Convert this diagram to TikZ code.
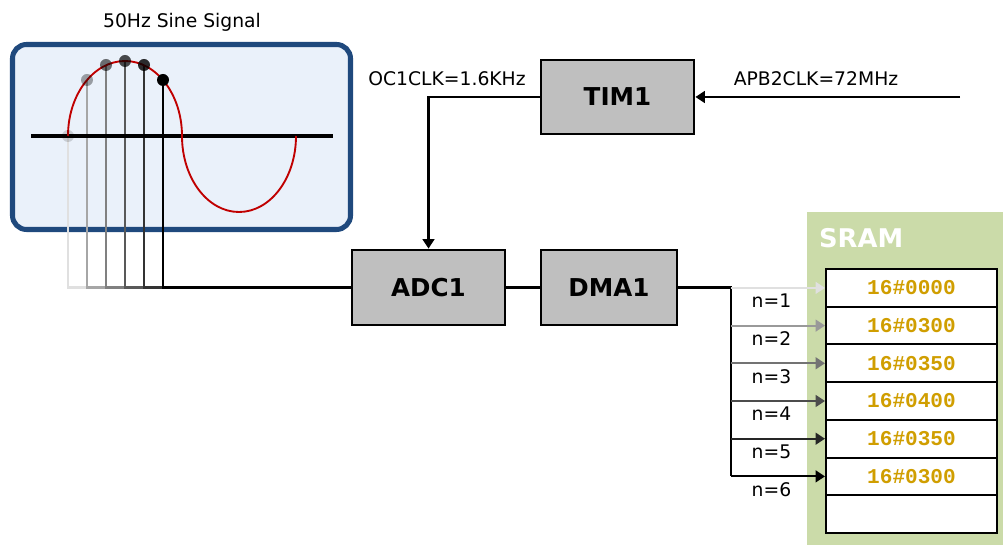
\documentclass[tikz,border=0pt]{standalone}
\usepackage{fontspec}
\setmainfont{DejaVu Sans}
\setmonofont{Liberation Mono}
\usepackage{xcolor}
\usetikzlibrary{arrows.meta, positioning, calc}
\definecolor{scopeBlue}{HTML}{1F497D}
\definecolor{scopeFill}{HTML}{EAF1FA}
\definecolor{sramGreen}{HTML}{CBDBA9}
\definecolor{blockGray}{HTML}{BFBFBF}
\definecolor{valueGold}{HTML}{D09E00}
\definecolor{waveRed}{HTML}{C00000}
\tikzset{wire tip/.style={-{Triangle[length=8pt,width=10pt]}}}

\begin{document}
\begin{tikzpicture}[x=0.03cm,y=-0.03cm,
                    wire/.style={line width=1.8pt},
                    block node/.style={rectangle,draw,line width=2.4pt,fill=blockGray,font=\fontsize{21}{24}\selectfont\bfseries,minimum height=2.25cm},
                    cell node/.style={rectangle,draw,line width=1.7pt,fill=white,minimum width=5.13cm,minimum height=1.131cm,font=\fontsize{18}{20}\selectfont\ttfamily\bfseries,text=valueGold},
                    label text/.style={font=\fontsize{16}{19}\selectfont}]
\useasboundingbox (0,0) rectangle (1003,545);

% scope screen
\node[label text] (Title) at (182,22) {50Hz Sine Signal};
\draw[scopeBlue,line width=4.3pt,fill=scopeFill,rounded corners=12pt] (12.5,44.5) rectangle (350.5,229.5);

\foreach \i/\px/\py in {1/68/136,2/87/80,3/106/65,4/125/61,5/144/65,6/163/80}
   \coordinate (Sample\i) at (\px,\py);

\node[block node,minimum width=4.59cm] (ADC) at (428.5,287.5) {ADC1};
\node[block node,minimum width=4.08cm] (DMA) at (609,287.5) {DMA1};
\node[block node,minimum width=4.59cm,minimum height=2.22cm] (TIM) at (617.5,97) {TIM1};

\foreach \i/\pc in {1/12,2/35,3/50,4/65,5/80,6/100}
   \draw[wire,draw=black!\pc] (Sample\i) |- (ADC.west);

\draw[line width=2.6pt] (31,136) -- (333,136);
\draw[waveRed,line width=1.6pt] (68,136) arc[start angle=180,end angle=360,x radius=57,y radius=75]
                                         arc[start angle=180,end angle=0,x radius=57,y radius=76];

\foreach \i/\op in {1/0.15,2/0.35,3/0.55,4/0.7,5/0.82,6/1}
   \node[circle,fill=black,fill opacity=\op,inner sep=0pt,minimum size=0.36cm] (Dot\i) at (Sample\i) {};

% timer and clocks
\coordinate (ClockIn) at (960,97);
\draw[wire,wire tip] (ClockIn) -- (TIM.east);
\draw[wire,wire tip] (TIM.west) -| (ADC.north);
\draw[wire] (ADC) -- (DMA);
\node[label text] (OCLabel) at (447,79) {OC1CLK=1.6KHz};
\node[label text] (APBLabel) at (816,79) {APB2CLK=72MHz};

% sram
\fill[sramGreen] (807,212) rectangle (1003,545);
\node[font=\fontsize{22}{24}\selectfont\bfseries,text=white,anchor=west] (SRAMLabel) at (815,238) {SRAM};

\foreach \i/\v in {1/0000,2/0300,3/0350,4/0400,5/0350,6/0300}
   \node[cell node] (Cell\i) at (911.5,250.2+37.7*\i) {16\#\v};
\node[cell node] (Cell7) at (911.5,514) {};

\coordinate (BusTop) at (731,287.5);
\draw[wire] (DMA.east) -- (BusTop) -- (BusTop |- Cell6.west);
\foreach \i/\pc in {1/12,2/40,3/55,4/70,5/85,6/100}
   \draw[wire,wire tip,draw=black!\pc] (BusTop |- Cell\i.west) -- (Cell\i.west)
        node[pos=0.43,below=1pt,label text,text=black] (N\i) {n=\i};

\end{tikzpicture}
\end{document}
